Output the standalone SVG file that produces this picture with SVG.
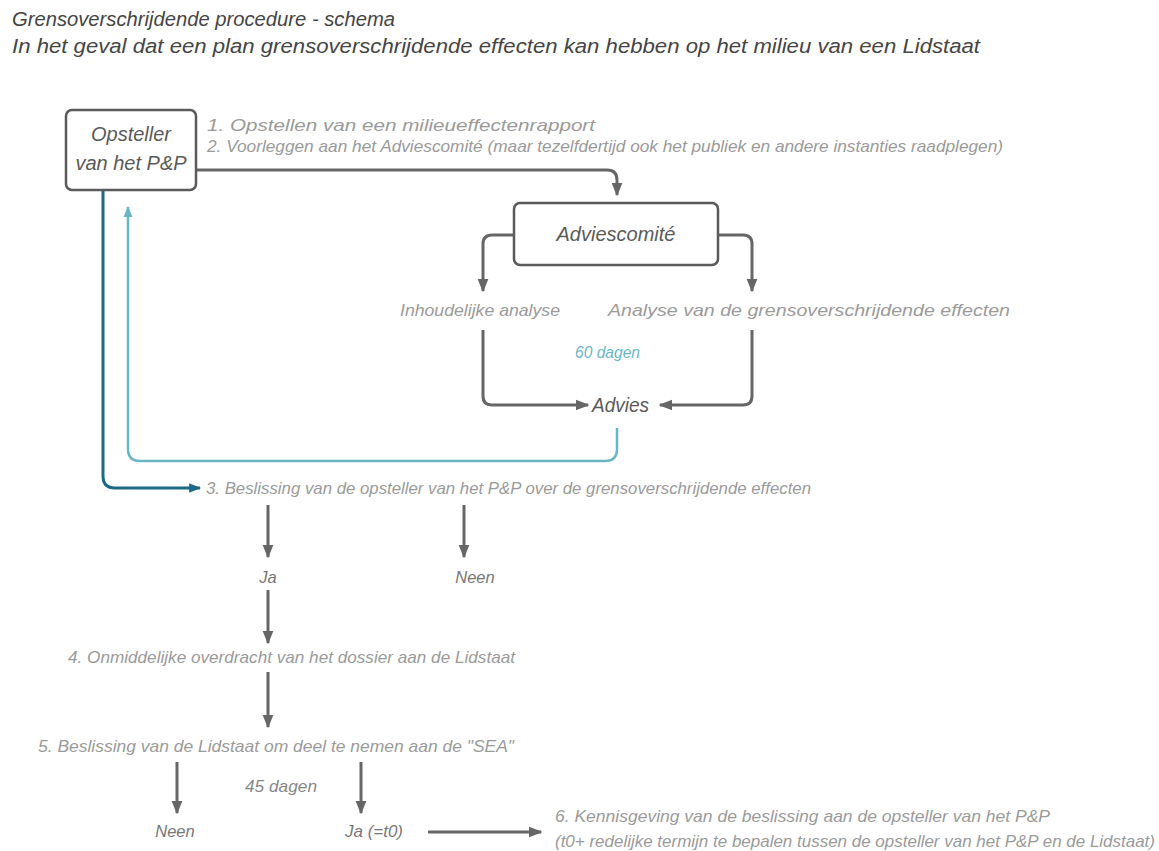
<svg xmlns="http://www.w3.org/2000/svg" width="1159" height="851" viewBox="0 0 1159 851">
<defs>
<style>
text{font-family:"Liberation Sans",Arial,sans-serif;font-style:italic}
.title{font-size:20px;fill:#454545}
.step{font-size:16.5px;fill:#9a9a9a}
.lbl{font-size:20px;fill:#5a5a5a}
.box{fill:#fff;stroke:#5a5a5a;stroke-width:2.5}
.ln{fill:none;stroke:#666;stroke-width:3}
.lb{fill:none;stroke:#6ab6c6;stroke-width:2.5}
.db{fill:none;stroke:#1d6a86;stroke-width:3}
</style>
<marker id="ag" viewBox="0 0 10 10" refX="9" refY="5" markerWidth="4.5" markerHeight="4.5" orient="auto" markerUnits="strokeWidth"><path d="M0,1 L10,5 L0,9 Z" fill="#666"/></marker>
<marker id="alb" viewBox="0 0 10 10" refX="9" refY="5" markerWidth="4.5" markerHeight="4.5" orient="auto" markerUnits="strokeWidth"><path d="M0,1 L10,5 L0,9 Z" fill="#6ab6c6"/></marker>
<marker id="adb" viewBox="0 0 10 10" refX="9" refY="5" markerWidth="4" markerHeight="4" orient="auto" markerUnits="strokeWidth"><path d="M0,1 L10,5 L0,9 Z" fill="#1d6a86"/></marker>
</defs>
<rect width="1159" height="851" fill="#fff"/>
<text class="title" x="12" y="26" textLength="383" lengthAdjust="spacingAndGlyphs">Grensoverschrijdende procedure - schema</text>
<text class="title" x="12" y="53" textLength="968" lengthAdjust="spacingAndGlyphs">In het geval dat een plan grensoverschrijdende effecten kan hebben op het milieu van een Lidstaat</text>

<g id="connectors">
<path class="ln" d="M196,170 H607 Q617,170 617,180 V195" marker-end="url(#ag)"/>
<path class="ln" d="M514,235 H492 Q483,235 483,244 V291" marker-end="url(#ag)"/>
<path class="ln" d="M718,235 H743 Q752,235 752,244 V291" marker-end="url(#ag)"/>
<path class="ln" d="M483,330 V396 Q483,405 492,405 H588" marker-end="url(#ag)"/>
<path class="ln" d="M752,330 V396 Q752,405 743,405 H660" marker-end="url(#ag)"/>
<path class="lb" d="M617,428 V449 Q617,461 605,461 H140 Q128,461 128,449 V207" marker-end="url(#alb)"/>
<path class="db" d="M103,190 V476 Q103,488 115,488 H200" marker-end="url(#adb)"/>
<path class="ln" d="M268,505 V557" marker-end="url(#ag)"/>
<path class="ln" d="M464,505 V557" marker-end="url(#ag)"/>
<path class="ln" d="M268,590 V643" marker-end="url(#ag)"/>
<path class="ln" d="M268,672 V727" marker-end="url(#ag)"/>
<path class="ln" d="M177,762 V813" marker-end="url(#ag)"/>
<path class="ln" d="M361,762 V813" stroke-width="2" marker-end="url(#ag)"/>
<path class="ln" d="M428,832 H541" stroke-width="2.5" marker-end="url(#ag)"/>
</g>

<g id="opsteller">
<rect class="box" x="66" y="110" width="130" height="80" rx="6"/>
<text class="lbl" x="131" y="141" text-anchor="middle">Opsteller</text>
<text class="lbl" x="131" y="170" text-anchor="middle">van het P&amp;P</text>
</g>
<g id="stap12">
<text class="step" x="207" y="131" textLength="388" lengthAdjust="spacingAndGlyphs">1. Opstellen van een milieueffectenrapport</text>
<text class="step" x="207" y="152" textLength="796" lengthAdjust="spacingAndGlyphs">2. Voorleggen aan het Adviescomité (maar tezelfdertijd ook het publiek en andere instanties raadplegen)</text>
</g>
<g id="adviescomite">
<rect class="box" x="514" y="203" width="204" height="62" rx="6"/>
<text class="lbl" x="616" y="241" text-anchor="middle">Adviescomité</text>
</g>
<g id="inhoudelijk"><text class="step" x="400" y="316" textLength="160" lengthAdjust="spacingAndGlyphs">Inhoudelijke analyse</text></g>
<g id="analyse"><text class="step" x="608" y="316" textLength="402" lengthAdjust="spacingAndGlyphs">Analyse van de grensoverschrijdende effecten</text></g>
<g id="dagen60"><text class="step" x="575" y="358" style="fill:#6ab6c6" textLength="65" lengthAdjust="spacingAndGlyphs">60 dagen</text></g>
<g id="advies"><text class="lbl" x="592" y="412" textLength="57" lengthAdjust="spacingAndGlyphs">Advies</text></g>
<g id="stap3"><text class="step" x="206" y="494" textLength="605" lengthAdjust="spacingAndGlyphs">3. Beslissing van de opsteller van het P&amp;P over de grensoverschrijdende effecten</text></g>
<g id="ja1"><text class="step" x="268" y="583" text-anchor="middle" style="fill:#777">Ja</text></g>
<g id="neen1"><text class="step" x="475" y="583" text-anchor="middle" style="fill:#777">Neen</text></g>
<g id="stap4"><text class="step" x="68" y="663" textLength="447" lengthAdjust="spacingAndGlyphs">4. Onmiddelijke overdracht van het dossier aan de Lidstaat</text></g>
<g id="stap5"><text class="step" x="38" y="752" textLength="476" lengthAdjust="spacingAndGlyphs">5. Beslissing van de Lidstaat om deel te nemen aan de "SEA"</text></g>
<g id="dagen45"><text class="step" x="245" y="792" style="fill:#888" textLength="72" lengthAdjust="spacingAndGlyphs">45 dagen</text></g>
<g id="neen2"><text class="step" x="175" y="837" text-anchor="middle" style="fill:#777">Neen</text></g>
<g id="ja2"><text class="step" x="345" y="837" style="fill:#777" textLength="58" lengthAdjust="spacingAndGlyphs">Ja (=t0)</text></g>
<g id="stap6">
<text class="step" x="555" y="822" textLength="495" lengthAdjust="spacingAndGlyphs">6. Kennisgeving van de beslissing aan de opsteller van het P&amp;P</text>
<text class="step" x="555" y="847" textLength="600" lengthAdjust="spacingAndGlyphs">(t0+ redelijke termijn te bepalen tussen de opsteller van het P&amp;P en de Lidstaat)</text>
</g>
</svg>
